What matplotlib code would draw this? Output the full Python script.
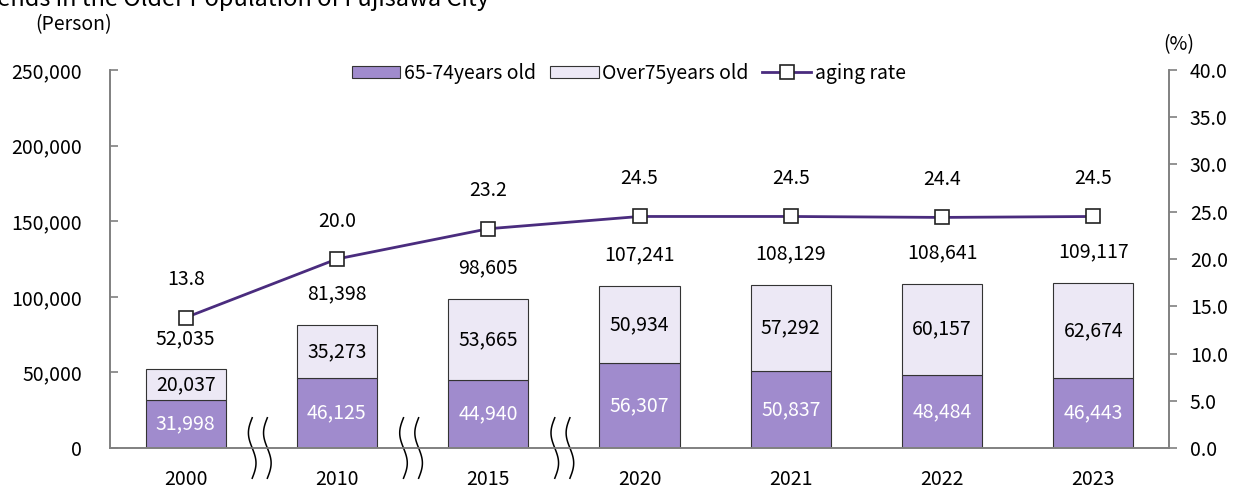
import matplotlib.pyplot as plt
import numpy as np

plt.rcParams['font.family'] = ['Noto Sans CJK JP', 'DejaVu Sans']

years = ['2000', '2010', '2015', '2020', '2021', '2022', '2023']
age_65_74 = [31998, 46125, 44940, 56307, 50837, 48484, 46443]
over_75 = [20037, 35273, 53665, 50934, 57292, 60157, 62674]
totals = [52035, 81398, 98605, 107241, 108129, 108641, 109117]
aging_rate = [13.8, 20.0, 23.2, 24.5, 24.5, 24.4, 24.5]

c_low = '#a08bcd'
c_high = '#ece8f5'
c_line = '#4a2c7e'

fig = plt.figure(figsize=(12.34, 4.9), dpi=100)
ax = fig.add_axes([110 / 1234, 42 / 490, 1059 / 1234, 378 / 490])
ax2 = ax.twinx()

x = np.arange(len(years))
w = 0.53
ax.bar(x, age_65_74, w, color=c_low, edgecolor='#333333', linewidth=0.8,
       label='65-74years old', zorder=2)
ax.bar(x, over_75, w, bottom=age_65_74, color=c_high, edgecolor='#333333',
       linewidth=0.8, label='Over75years old', zorder=2)

fs = 14
for i in range(len(years)):
    ax.text(x[i], age_65_74[i] / 2, f'{age_65_74[i]:,}', ha='center',
            va='center', color='white', fontsize=fs, zorder=3)
    ax.text(x[i], age_65_74[i] + over_75[i] / 2, f'{over_75[i]:,}',
            ha='center', va='center', color='black', fontsize=fs, zorder=3)
    ax.annotate(f'{totals[i]:,}', (x[i], totals[i]), xytext=(0, 31),
                textcoords='offset pixels', ha='center', va='center',
                fontsize=fs)

ax2.plot(x, aging_rate, color=c_line, linewidth=2, marker='s',
         markersize=10, markerfacecolor='white', markeredgecolor='#222222',
         markeredgewidth=1.2, label='aging rate', zorder=5)
for i in range(len(years)):
    ax2.annotate(f'{aging_rate[i]:.1f}', (x[i], aging_rate[i]),
                 xytext=(0, 38), textcoords='offset pixels', ha='center',
                 va='center', fontsize=fs)

ax.set_xlim(-0.5, len(years) - 0.5)
ax.set_ylim(0, 250000)
ax.set_yticks(np.arange(0, 250001, 50000))
ax.set_yticklabels([f'{v:,}' for v in range(0, 250001, 50000)])
ax2.set_ylim(0, 40)
ax2.set_yticks(np.arange(0, 40.1, 5))
ax2.set_yticklabels([f'{v:.1f}' for v in np.arange(0, 40.1, 5)])
ax.set_xticks(x)
ax.set_xticklabels(years)

for a in (ax, ax2):
    a.spines['top'].set_visible(False)
    for s in ('left', 'right', 'bottom'):
        a.spines[s].set_color('#808080')
        a.spines[s].set_linewidth(1.2)
ax.tick_params(axis='y', colors='#808080', labelcolor='black', labelsize=fs,
               length=6, width=1.2, direction='in', pad=20)
ax2.tick_params(axis='y', colors='#808080', labelcolor='black', labelsize=fs,
                length=6, width=1.2, direction='out', pad=9)
ax.tick_params(axis='x', length=0, labelsize=fs, pad=15)

# axis break marks between non-consecutive years
tt = np.linspace(0, 1, 60)
for bx in (0.5, 1.5, 2.5):
    for dx in (-0.05, 0.05):
        xs = bx + dx + 0.025 * np.sin(tt * 2 * np.pi)
        ys = -0.08 + 0.16 * tt
        ax.plot(xs - 0.01, ys, transform=ax.get_xaxis_transform(),
                color='black', linewidth=1.1, clip_on=False, zorder=6)

h1, l1 = ax.get_legend_handles_labels()
h2, l2 = ax2.get_legend_handles_labels()
ax.legend(h1 + h2, l1 + l2, loc='upper center', bbox_to_anchor=(0.49, 1.065),
          ncol=3, frameon=False, fontsize=fs, handlelength=2.5,
          handleheight=0.6, handletextpad=0.2, columnspacing=0.7)

fig.text(35 / 1234, 1 - 25 / 490, '(Person)', fontsize=fs, va='center')
fig.text(1163 / 1234, 1 - 45 / 490, '(%)', fontsize=fs, va='center')
fig.text(-26 / 1234, 1 - 6 / 490, 'Trends in the Older Population of Fujisawa City',
         fontsize=17, va='baseline')

fig.savefig('out.png', dpi=100)
